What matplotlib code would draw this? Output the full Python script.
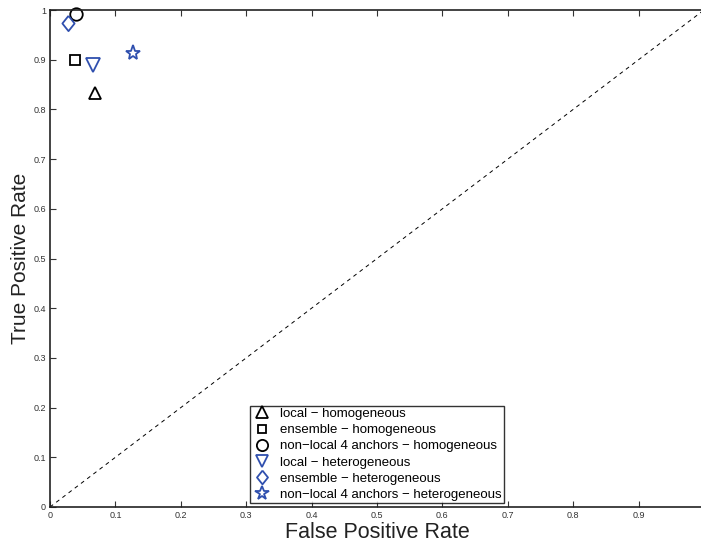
import matplotlib
matplotlib.use("Agg")
import matplotlib.pyplot as plt

plt.rcParams['font.family'] = ['Liberation Sans', 'DejaVu Sans']

labels = ["local \u2212 homogeneous", "ensemble \u2212 homogeneous",
          "non\u2212local 4 anchors \u2212 homogeneous", "local \u2212 heterogeneous",
          "ensemble \u2212 heterogeneous", "non\u2212local 4 anchors \u2212 heterogeneous"]
fpr = [0.069, 0.038, 0.039, 0.066, 0.027, 0.127]
tpr = [0.833, 0.900, 0.991, 0.889, 0.974, 0.913]

# MATLAB-like diamond: slightly taller than wide
diamond = [(0, 1), (0.8, 0), (0, -1), (-0.8, 0), (0, 1)]
markers = ['^', 's', 'o', 'v', diamond, '*']
sizes = [9, 7, 9, 10, 11, 11]
black = '#000000'
blue = '#2f4fae'
colors = [black, black, black, blue, blue, blue]

fig = plt.figure(figsize=(7.01, 5.42), dpi=100)
ax = fig.add_axes([50 / 701, 35 / 542, 654 / 701, 497 / 542])

ax.plot([0, 1], [0, 1], '--', color='k', linewidth=0.7, dashes=(4, 4))
for x, y, m, s, c, lab in zip(fpr, tpr, markers, sizes, colors, labels):
    ax.plot(x, y, linestyle='none', marker=m, markersize=s, markerfacecolor='none',
            markeredgecolor=c, markeredgewidth=1.3, label=lab, clip_on=False)

ax.set_xlim(0, 1)
ax.set_ylim(0, 1)
ax.set_xticks([i / 10 for i in range(10)])
ax.set_yticks([i / 10 for i in range(11)])
ax.set_xticklabels(['0'] + ['%.1f' % (i / 10) for i in range(1, 10)])
ax.set_yticklabels(['0'] + ['%.1f' % (i / 10) for i in range(1, 10)] + ['1'])
ax.tick_params(direction='in', length=4, width=0.8, labelsize=6.5, colors='#333333',
               top=True, right=False, pad=3)
for side in ['left', 'bottom', 'top']:
    ax.spines[side].set_linewidth(1.2)
    ax.spines[side].set_color('#222222')
ax.spines['right'].set_visible(False)

ax.set_xlabel("False Positive Rate", fontsize=15.5, color='#222222', labelpad=1)
ax.set_ylabel("True Positive Rate", fontsize=15, color='#222222', labelpad=2)

leg = ax.legend(loc='lower center', bbox_to_anchor=(0.5, 0.008), fontsize=9.5,
                frameon=True, fancybox=False, handlelength=1.5, handletextpad=0.6,
                labelspacing=0.3, borderpad=0.15, borderaxespad=0, numpoints=1,
                markerscale=0.9)
leg.get_frame().set_edgecolor('k')
leg.get_frame().set_linewidth(1.0)

fig.savefig("out.png", dpi=100)
